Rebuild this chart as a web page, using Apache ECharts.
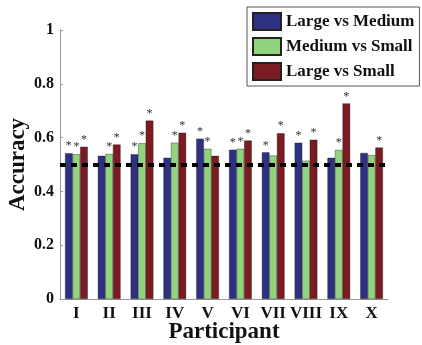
<!DOCTYPE html>
<html><head><meta charset="utf-8">
<script src="https://cdn.jsdelivr.net/npm/echarts@6/dist/echarts.min.js"></script>
<style>html,body{margin:0;padding:0;background:#fff}#c{width:422px;height:345px}</style>
</head><body><div id="c"></div>
<script>
const categories = ['I','II','III','IV','V','VI','VII','VIII','IX','X'];
const largeVsMedium = [0.542,0.532,0.538,0.525,0.596,0.555,0.545,0.581,0.525,0.543];
const mediumVsSmall = [0.538,0.539,0.579,0.581,0.558,0.558,0.533,0.514,0.554,0.535];
const largeVsSmall  = [0.566,0.574,0.663,0.618,0.532,0.589,0.616,0.592,0.727,0.563];
const sigLM = [1,0,1,0,1,1,1,1,0,0];
const sigMS = [1,1,1,1,1,1,0,0,1,0];
const sigLS = [1,1,1,1,0,1,1,1,1,1];
const chanceLevel = 0.5;

const serif = '"Liberation Serif","DejaVu Serif",serif';
function mk(name, data, sig, color, extra) {
  return Object.assign({
    name, type:'bar', data, barGap:'0%', barCategoryGap:'31%',
    itemStyle:{color, borderColor:'#222', borderWidth:0.4},
    label:{show:true, position:'top', distance:1, fontSize:12, color:'#333', fontFamily:serif,
      formatter:p=>sig[p.dataIndex]?'*':''}
  }, extra||{});
}
const chart = echarts.init(document.getElementById('c'));
chart.setOption({
  animation:false,
  grid:{left:60,right:34,top:30,bottom:46, containLabel:false, outerBoundsMode:'none'},
  legend:{orient:'vertical', left:247, top:7, padding:[5,5,5,5], itemGap:6,
    itemWidth:28, itemHeight:17, icon:'rect', borderColor:'#555', borderWidth:1, backgroundColor:'#fff',
    textStyle:{fontFamily:serif, fontWeight:'bold', fontSize:17, color:'#111'},
    data:['Large vs Medium','Medium vs Small','Large vs Small']},
  xAxis:{type:'category', data:categories, name:'Participant', nameLocation:'middle', nameGap:22,
    nameMoveOverlap:false,
    nameTextStyle:{fontFamily:serif, fontWeight:'bold', fontSize:23, color:'#111'},
    axisLine:{lineStyle:{color:'#999'}}, axisTick:{show:false},
    axisLabel:{fontFamily:serif, fontWeight:'bold', fontSize:17, color:'#111', margin:6, interval:0}},
  yAxis:{type:'value', min:0, max:1, interval:0.2, name:'Accuracy', nameLocation:'middle', nameGap:30,
    nameMoveOverlap:false,
    nameTextStyle:{fontFamily:serif, fontWeight:'bold', fontSize:23, color:'#111'},
    axisLine:{show:true, lineStyle:{color:'#999'}}, axisTick:{show:true, inside:true, length:3, lineStyle:{color:'#999'}},
    splitLine:{show:false},
    axisLabel:{fontFamily:serif, fontWeight:'bold', fontSize:16, color:'#111', margin:6,
      formatter:v=>String(+v.toFixed(1))}},
  series:[
    mk('Large vs Medium', largeVsMedium, sigLM, '#2e3181'),
    mk('Medium vs Small', mediumVsSmall, sigMS, '#92d47e'),
    mk('Large vs Small', largeVsSmall, sigLS, '#7b1b22', {
      markLine:{silent:true, symbol:'none', label:{show:false}, z:10,
        lineStyle:{color:'#000', width:4, type:[6,5]}, data:[{yAxis:chanceLevel}]}})
  ]
});
</script></body></html>
